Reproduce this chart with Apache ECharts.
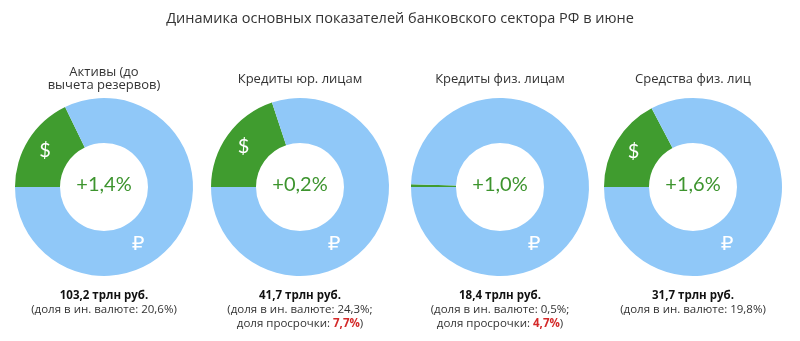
<!DOCTYPE html>
<html><head><meta charset="utf-8">
<script src="https://cdn.jsdelivr.net/npm/echarts@6/dist/echarts.min.js"></script>
<style>html,body{margin:0;padding:0;background:#fff}#c{width:800px;height:341px}</style>
</head><body><div id="c"></div>
<script>
const chartTitle = 'Динамика основных показателей банковского сектора РФ в июне';
const groups = ['Активы (до\nвычета резервов)', 'Кредиты юр. лицам', 'Кредиты физ. лицам', 'Средства физ. лиц'];
const fxSlice = [17.8, 19.9, 0.5, 17.3];
const rubSlice = [82.2, 80.1, 99.5, 82.7];
const growth = ['+1,4%', '+0,2%', '+1,0%', '+1,6%'];
const totals = ['103,2 трлн руб.', '41,7 трлн руб.', '18,4 трлн руб.', '31,7 трлн руб.'];
const fxText = ['20,6%', '24,3%', '0,5%', '19,8%'];
const overdue = [null, '7,7%', '4,7%', null];

const centersX = [104, 300, 500, 693];
const cy = 187;
const GREEN = '#409c2f', BLUE = '#90c8f8';
const FONT = '"Open Sans", sans-serif';

const titles = [{
  text: chartTitle, left: 400, top: 11, textAlign: 'center', padding: 0,
  textStyle: {fontFamily: FONT, fontSize: 14.5, fontWeight: 'normal', color: '#333'}
}];
const series = [];
const graphics = [];
groups.forEach((g, i) => {
  const twoLine = g.indexOf('\n') >= 0;
  titles.push({
    text: g, left: centersX[i], top: twoLine ? 66 : 73, textAlign: 'center', padding: 0,
    textStyle: {fontFamily: FONT, fontSize: 13, fontWeight: 'normal', color: '#333', lineHeight: 13}
  });
  titles.push({
    text: growth[i], left: centersX[i], top: cy - 12, textAlign: 'center', padding: 0,
    textStyle: {fontFamily: 'Lato, sans-serif', fontSize: 20, fontWeight: 'normal', color: '#3d942e'}
  });
  let t = '{b|' + totals[i] + '}\n';
  if (overdue[i]) {
    t += '{n|(доля в ин. валюте: ' + fxText[i] + ';}\n{n|доля просрочки: }{r|' + overdue[i] + '}{n|)}';
  } else {
    t += '{n|(доля в ин. валюте: ' + fxText[i] + ')}';
  }
  titles.push({
    text: t, left: centersX[i], top: 289, textAlign: 'center', padding: 0,
    textStyle: {
      fontWeight: 'normal',
      rich: {
        b: {fontFamily: FONT, fontSize: 11.5, fontWeight: 'bold', color: '#111', lineHeight: 14},
        n: {fontFamily: FONT, fontSize: 11.5, fontWeight: 'normal', color: '#333', lineHeight: 14},
        r: {fontFamily: FONT, fontSize: 11.5, fontWeight: 'bold', color: '#d42a2a', lineHeight: 14}
      }
    }
  });
  series.push({
    type: 'pie', center: [centersX[i], cy], radius: [44, 89],
    startAngle: 180, clockwise: true, silent: true, animation: false,
    label: {show: false}, labelLine: {show: false},
    data: [
      {name: '$', value: fxSlice[i], itemStyle: {color: GREEN},
       label: {show: fxSlice[i] > 3, position: 'inside', formatter: '$', color: '#fff', fontSize: 20, fontFamily: 'Lato, sans-serif'}},
      {name: '₽', value: rubSlice[i], itemStyle: {color: BLUE}}
    ]
  });
  graphics.push({
    type: 'text', x: centersX[i] + 34, y: cy + 58, z: 100,
    style: {text: '₽', fill: '#fff', font: '20px "DejaVu Sans", sans-serif', textAlign: 'center', textVerticalAlign: 'middle'}
  });
});

const chart = echarts.init(document.getElementById('c'), null, {renderer: 'canvas'});
chart.setOption({
  backgroundColor: '#fff',
  animation: false,
  title: titles,
  series: series,
  graphic: {elements: graphics}
});
</script></body></html>
